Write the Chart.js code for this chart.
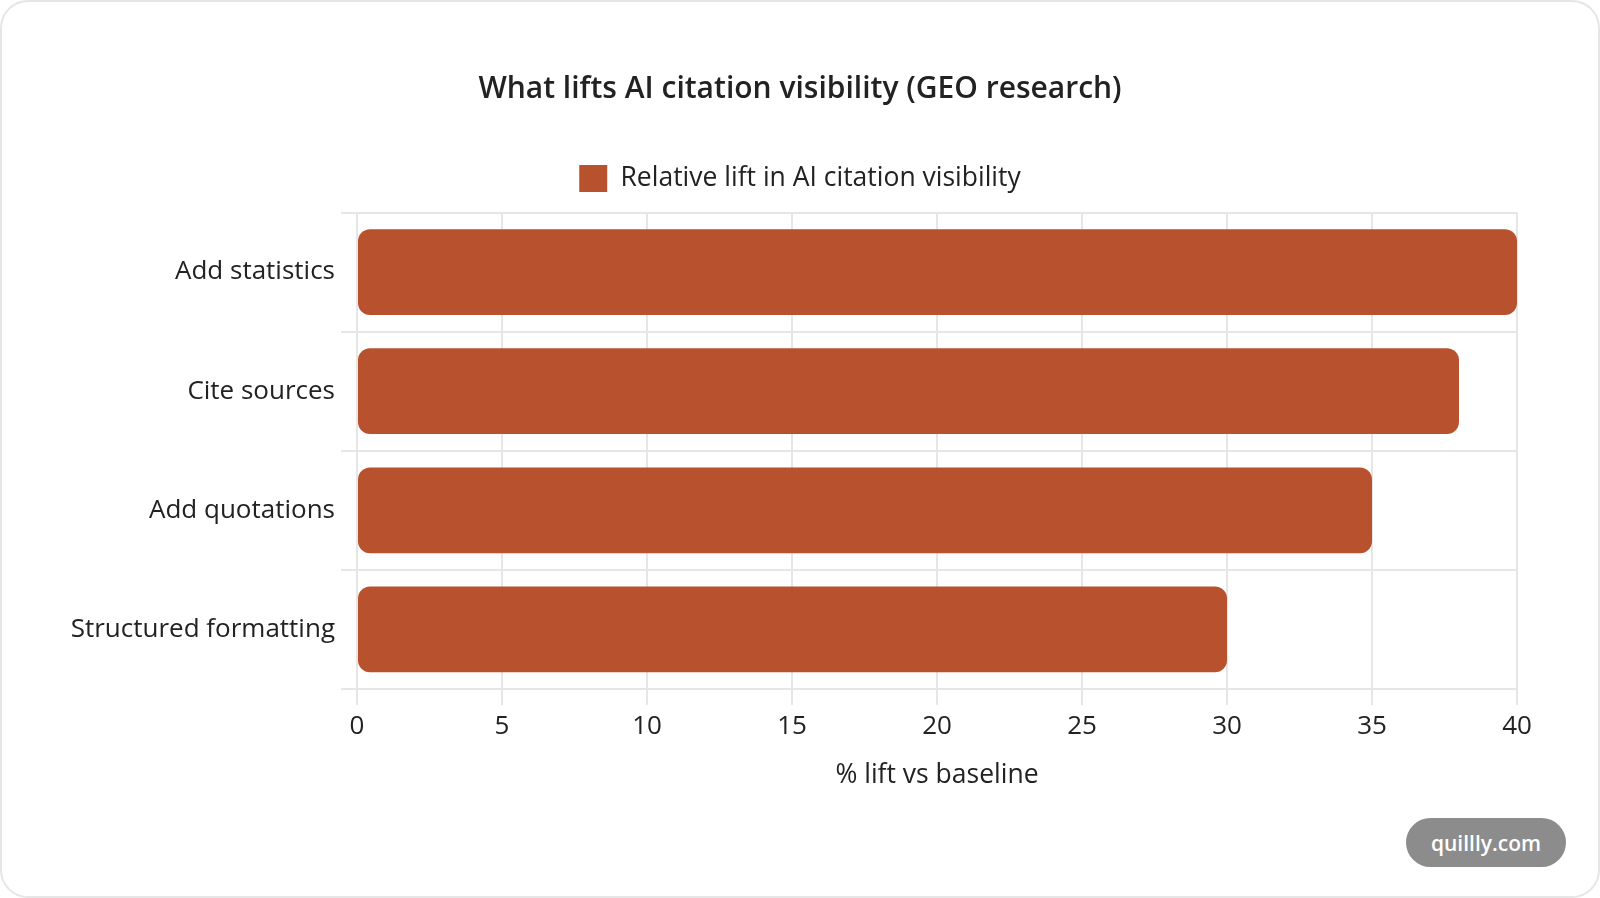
<!DOCTYPE html>
<html>
<head>
<meta charset="utf-8">
<script src="https://cdn.jsdelivr.net/npm/chart.js@4.4.1/dist/chart.umd.min.js"></script>
<style>
  html, body { margin: 0; padding: 0; background: #ffffff; }
  #card { position: absolute; left: 0; top: 0; width: 1600px; height: 898px; box-sizing: border-box;
          border: 2px solid #e6e6e6; border-radius: 28px; background: #ffffff; }
  #wrap { position: absolute; left: 0; top: 0; width: 1600px; height: 898px; }
  #badge { position: absolute; left: 1406px; top: 818px; width: 160px; height: 49px; border-radius: 25px;
           background: #8c8c8c; color: #ffffff; font: 600 21px 'Open Sans', sans-serif;
           display: flex; align-items: center; justify-content: center; }
</style>
</head>
<body>
<div id="card"></div>
<div id="wrap"><canvas id="chart" width="1600" height="898"></canvas></div>
<div id="badge">quillly.com</div>
<script>
const chartTitle = 'What lifts AI citation visibility (GEO research)';
const seriesLabel = 'Relative lift in AI citation visibility';
const categories = ['Add statistics', 'Cite sources', 'Add quotations', 'Structured formatting'];
const liftValues = [40, 38, 35, 30];
const xAxisTitle = '% lift vs baseline';
const xMin = 0, xMax = 40, xStep = 5;

const FONT = "'Open Sans', 'Noto Sans', sans-serif";
const TEXT = '#222222';
const GRID = '#e6e6e6';
const BAR = '#b8512e';

new Chart(document.getElementById('chart'), {
  type: 'bar',
  data: {
    labels: categories,
    datasets: [{
      label: seriesLabel,
      data: liftValues,
      backgroundColor: BAR,
      borderWidth: 0,
      borderRadius: 12,
      borderSkipped: false
    }]
  },
  options: {
    indexAxis: 'y',
    responsive: false,
    devicePixelRatio: 1,
    animation: false,
    layout: { padding: { left: 0, right: 0, top: 0, bottom: 0 } },
    plugins: {
      title: {
        display: true,
        text: chartTitle,
        color: TEXT,
        font: { family: FONT, size: 30, weight: 600, lineHeight: 1.2 },
        padding: { top: 71, bottom: 48 }
      },
      subtitle: {
        display: true,
        text: '',
        weight: 500,
        font: { family: FONT, size: 10, lineHeight: 1 },
        padding: { top: 0.5, bottom: 0 }
      },
      legend: {
        display: true,
        labels: {
          color: TEXT,
          boxWidth: 28,
          boxHeight: 27,
          padding: 10,
          font: { family: FONT, size: 26.5 }
        }
      },
      tooltip: { enabled: false }
    },
    scales: {
      x: {
        min: xMin,
        max: xMax,
        ticks: { stepSize: xStep, color: TEXT, padding: 6, font: { family: FONT, size: 26 } },
        grid: { color: GRID, lineWidth: 2, tickLength: 16 },
        border: { color: GRID, width: 2 },
        title: {
          display: true,
          text: xAxisTitle,
          color: TEXT,
          font: { family: FONT, size: 26.5, lineHeight: 1.2 },
          padding: { top: 4, bottom: 107 }
        },
        afterFit: (s) => { s.height = 209; }
      },
      y: {
        ticks: { color: TEXT, padding: 6, font: { family: FONT, size: 26 } },
        grid: { color: GRID, lineWidth: 2, tickLength: 16 },
        border: { color: GRID, width: 2 },
        afterFit: (s) => { s.width = 357; }
      },
      yRight: {
        type: 'category',
        position: 'right',
        ticks: { display: false },
        grid: { display: false },
        border: { display: false },
        afterFit: (s) => { s.width = 83; }
      }
    }
  }
});
</script>
</body>
</html>
